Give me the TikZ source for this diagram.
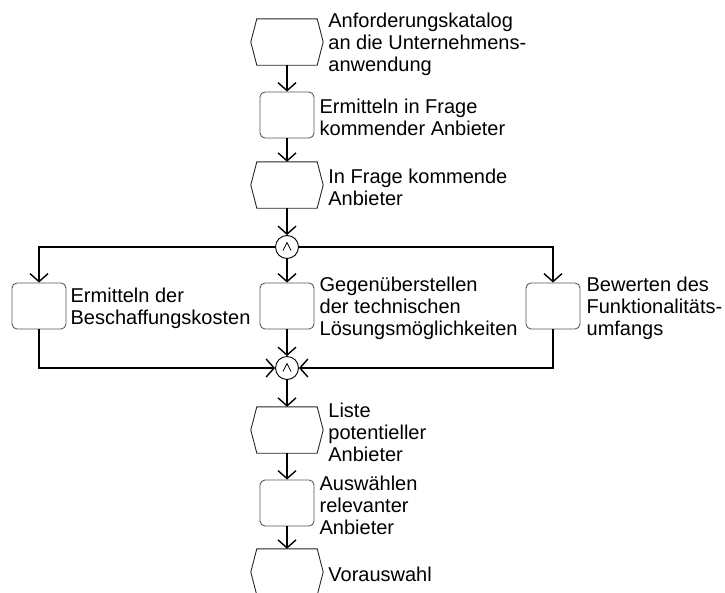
\documentclass[tikz,border=0pt]{standalone}
\usepackage{fontspec}
\setmainfont{Liberation Sans}
\usetikzlibrary{arrows.meta,calc}

% hexagonal event: invisible rectangle node plus the hexagon outline around it
\newcommand\hexnode[3]{%
  \node[hexbox] (#1) at (#2,#3) {};
  \draw[hexline] ([xshift=6pt]#1.north west) -- ([xshift=-6pt]#1.north east)
    -- (#1.east) -- ([xshift=-6pt]#1.south east) -- ([xshift=6pt]#1.south west)
    -- (#1.west) -- cycle;
}

\begin{document}
\begin{tikzpicture}[x=1pt,y=-1pt,
  flow/.style={line width=1.4pt, -{Straight Barb[length=8pt,width=18pt]}},
  fn/.style={draw=black!65, line width=0.9pt, rounded corners=5pt,
    minimum width=54pt, minimum height=46pt, inner sep=0pt},
  hexbox/.style={minimum width=72pt, minimum height=46pt, inner sep=0pt},
  hexline/.style={draw=black!85, line width=0.9pt, line join=miter},
  andop/.style={circle, draw, line width=0.9pt, minimum size=23pt, inner sep=0pt,
    path picture={\draw[line width=0.7pt]
      ($(path picture bounding box.center)+(-4,3.5)$) -- ++(4,-8) -- ++(4,8);}},
  lbl/.style={anchor=west, align=left, inner sep=0pt, yshift=-2.5pt,
    font=\fontsize{20}{22}\selectfont}]

\useasboundingbox (0,0) rectangle (725,592);

% shapes
\hexnode{h1}{287}{42}
\node[fn] (f1) at (287,115) {};
\hexnode{h2}{287}{185}
\node[andop] (a1) at (287,247) {};
\node[fn] (f2) at (39,306) {};
\node[fn] (f3) at (287,306) {};
\node[fn] (f4) at (553,306) {};
\node[andop] (a2) at (287,368) {};
\hexnode{h3}{287}{430}
\node[fn] (f5) at (287,503) {};
\hexnode{h4}{287}{572}

% labels
\node[lbl] (t1) at ([xshift=5pt]h1.east) {Anforderungskatalog\\an die Unternehmens-\\anwendung};
\node[lbl] (t2) at ([xshift=5pt]f1.east) {Ermitteln in Frage\\kommender Anbieter};
\node[lbl] (t3) at ([xshift=5pt]h2.east) {In Frage kommende\\Anbieter};
\node[lbl] (t4) at ([xshift=4pt]f2.east) {Ermitteln der\\Beschaffungskosten};
\node[lbl] (t5) at ([xshift=5pt]f3.east) {Gegenüberstellen\\der technischen\\Lösungsmöglichkeiten};
\node[lbl] (t6) at ([xshift=6pt]f4.east) {Bewerten des\\Funktionalitäts-\\umfangs};
\node[lbl] (t7) at ([xshift=5pt]h3.east) {Liste\\potentieller\\Anbieter};
\node[lbl] (t8) at ([xshift=5pt]f5.east) {Auswählen\\relevanter\\Anbieter};
\node[lbl] (t9) at ([xshift=5pt]h4.east) {Vorauswahl};

% control flow
\draw[flow] (h1.south) -- (f1.north);
\draw[flow] (f1.south) -- (h2.north);
\draw[flow] (h2.south) -- (a1.north);
\draw[flow] (a1.south) -- (f3.north);
\draw[flow] (a1.west) -| (f2.north);
\draw[flow] (a1.east) -| (f4.north);
\draw[flow] (f3.south) -- (a2.north);
\draw[flow] (f2.south) |- (a2.west);
\draw[flow] (f4.south) |- (a2.east);
\draw[flow] (a2.south) -- (h3.north);
\draw[flow] (h3.south) -- (f5.north);
\draw[flow] (f5.south) -- (h4.north);

\end{tikzpicture}
\end{document}
